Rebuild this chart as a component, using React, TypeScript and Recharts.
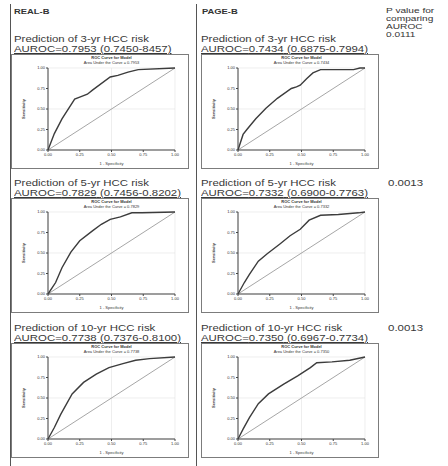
import React from 'react'
import { LineChart, Line, XAxis, YAxis, CartesianGrid, ReferenceLine } from 'recharts'

// follow-up horizons, one per table row
const years = [3, 5, 10]

// REAL-B column
const realAuc = ['0.7953', '0.7829', '0.7738']
const realCi = ['(0.7450-8457)', '(0.7456-0.8202)', '(0.7376-0.8100)']

// PAGE-B column
const pageAuc = ['0.7434', '0.7332', '0.7350']
const pageCi = ['(0.6875-0.7994)', '(0.6900-0.7763)', '(0.6967-0.7734)']

// p values for the AUROC comparison
const pValues = ['0.0111', '0.0013', '0.0013']
const pHeader = ['P value for', 'comparing', 'AUROC']

// ROC curves: 1 - specificity / sensitivity
const real3Fpr = [0, 0.05, 0.11, 0.21, 0.26, 0.31, 0.35, 0.49, 0.55, 0.63, 0.71, 1]
const real3Tpr = [0, 0.2, 0.38, 0.62, 0.65, 0.68, 0.73, 0.89, 0.91, 0.95, 0.98, 1]
const page3Fpr = [0, 0.04, 0.07, 0.14, 0.22, 0.31, 0.42, 0.46, 0.49, 0.54, 0.59, 0.65, 0.91, 0.96, 1]
const page3Tpr = [0, 0.19, 0.25, 0.38, 0.51, 0.63, 0.75, 0.77, 0.79, 0.87, 0.94, 0.98, 0.98, 1, 1]

const real5Fpr = [0, 0.06, 0.11, 0.18, 0.25, 0.35, 0.42, 0.49, 0.57, 0.66, 0.74, 1]
const real5Tpr = [0, 0.14, 0.32, 0.51, 0.65, 0.77, 0.85, 0.91, 0.94, 0.99, 0.99, 1]
const page5Fpr = [0, 0.05, 0.09, 0.16, 0.23, 0.33, 0.41, 0.49, 0.56, 0.65, 0.79, 0.95, 1]
const page5Tpr = [0, 0.14, 0.24, 0.4, 0.49, 0.61, 0.71, 0.79, 0.9, 0.96, 0.97, 0.99, 1]

const real10Fpr = [0, 0.05, 0.1, 0.19, 0.28, 0.38, 0.48, 0.59, 0.69, 0.8, 1]
const real10Tpr = [0, 0.14, 0.3, 0.55, 0.69, 0.79, 0.87, 0.92, 0.96, 0.98, 1]
const page10Fpr = [0, 0.04, 0.09, 0.16, 0.24, 0.36, 0.47, 0.57, 0.62, 0.74, 0.88, 1]
const page10Tpr = [0, 0.12, 0.26, 0.43, 0.55, 0.67, 0.77, 0.87, 0.93, 0.94, 0.96, 1]

const axisTicks = [0, 0.25, 0.5, 0.75, 1]

const realCurves = [
  [real3Fpr, real3Tpr],
  [real5Fpr, real5Tpr],
  [real10Fpr, real10Tpr],
]
const pageCurves = [
  [page3Fpr, page3Tpr],
  [page5Fpr, page5Tpr],
  [page10Fpr, page10Tpr],
]

const FONT = '"Liberation Sans", Arial, sans-serif'
const BOX_W = 178
const BOX_H = 115
const ROW_TOPS = [54, 198, 343]
const LEFT_X = 11
const RIGHT_X = 201

interface RocBoxProps {
  fpr: number[]
  tpr: number[]
  auc: string
  left: number
  top: number
}

const RocBox: React.FC<RocBoxProps> = ({ fpr, tpr, auc, left, top }) => {
  const data = fpr.map((x, i) => ({ x, y: tpr[i] }))
  const w = BOX_W - 2
  const h = BOX_H - 2
  const plotLeft = 36
  const plotRight = w - 13
  const plotTop = 13
  const plotBottom = h - 18
  const midY = (plotTop + plotBottom) / 2
  return (
    <div
      style={{
        position: 'absolute',
        left,
        top,
        width: BOX_W,
        height: BOX_H,
        border: '1px solid #7c7c7c',
        boxSizing: 'border-box',
        background: '#fff',
      }}
    >
      <div
        style={{
          position: 'absolute',
          left: plotLeft,
          width: plotRight - plotLeft,
          top: 1,
          textAlign: 'center',
          fontFamily: FONT,
          fontSize: 4,
          lineHeight: '4.5px',
          color: '#333',
        }}
      >
        <div style={{ fontWeight: 700 }}>ROC Curve for Model</div>
        <div>Area Under the Curve = {auc}</div>
      </div>
      <LineChart
        width={w}
        height={h}
        data={data}
        margin={{ top: plotTop, right: 13, bottom: 2, left: 14 }}
        style={{ fontFamily: FONT }}
      >
        <CartesianGrid xAxisId="b" yAxisId="l" stroke="#e3e3e3" strokeWidth={0.6} />
        <XAxis
          xAxisId="b"
          type="number"
          dataKey="x"
          domain={[0, 1]}
          ticks={axisTicks}
          tickFormatter={(v: number) => v.toFixed(2)}
          tick={{ fontSize: 4, fill: '#333' }}
          tickSize={2}
          tickMargin={1}
          height={16}
          axisLine={{ stroke: '#444' }}
          tickLine={{ stroke: '#444' }}
          label={{ value: '1 - Specificity', position: 'insideBottom', offset: 1, fontSize: 4, fill: '#333' }}
        />
        <XAxis xAxisId="t" orientation="top" type="number" domain={[0, 1]} height={0} tick={false} tickLine={false} axisLine={{ stroke: '#444' }} />
        <YAxis
          yAxisId="l"
          type="number"
          domain={[0, 1]}
          ticks={axisTicks}
          tickFormatter={(v: number) => v.toFixed(2)}
          tick={{ fontSize: 4, fill: '#333' }}
          tickSize={2}
          tickMargin={1}
          width={22}
          axisLine={{ stroke: '#444' }}
          tickLine={{ stroke: '#444' }}
          label={{
            content: () => (
              <text
                x={13}
                y={midY}
                transform={`rotate(-90 13 ${midY})`}
                textAnchor="middle"
                fontSize={4}
                fontWeight={700}
                fill="#333"
              >
                Sensitivity
              </text>
            ),
          }}
        />
        <YAxis yAxisId="r" orientation="right" type="number" domain={[0, 1]} width={0} tick={false} tickLine={false} axisLine={{ stroke: '#444' }} />
        <ReferenceLine
          xAxisId="b"
          yAxisId="l"
          segment={[{ x: 0, y: 0 }, { x: 1, y: 1 }]}
          stroke="#9c9c9c"
          strokeWidth={0.9}
        />
        <Line
          xAxisId="b"
          yAxisId="l"
          type="linear"
          dataKey="y"
          stroke="#3c3c3c"
          strokeWidth={1.4}
          dot={false}
          isAnimationActive={false}
        />
      </LineChart>
    </div>
  )
}

// the scanned table text is wide and short, so it is stretched sideways
const titleStyle: React.CSSProperties = {
  position: 'absolute',
  fontFamily: FONT,
  fontSize: 9.5,
  color: '#383838',
  whiteSpace: 'nowrap',
  lineHeight: '10px',
  transform: 'scaleX(1.2)',
  transformOrigin: 'left top',
}

const headStyle: React.CSSProperties = {
  position: 'absolute',
  fontFamily: FONT,
  fontSize: 7.5,
  fontWeight: 700,
  color: '#333',
  whiteSpace: 'nowrap',
  lineHeight: '8px',
  transform: 'scaleX(1.25)',
  transformOrigin: 'left top',
}

export default function App() {
  return (
    <div
      style={{
        position: 'absolute',
        left: 0,
        top: 0,
        width: 448,
        height: 466,
        background: '#fff',
        overflow: 'hidden',
      }}
    >
      {/* table rules */}
      <div style={{ position: 'absolute', left: 10, top: 4, width: 1, height: 462, background: '#555' }} />
      <div style={{ position: 'absolute', left: 196, top: 4, width: 1, height: 462, background: '#555' }} />

      <div style={{ ...headStyle, left: 14, top: 8 }}>REAL-B</div>
      <div style={{ ...headStyle, left: 202, top: 8 }}>PAGE-B</div>
      {pHeader.map((t, k) => (
        <div key={t} style={{ ...headStyle, left: 386, top: 7 + k * 8, fontWeight: 400, transform: 'scaleX(1.35)' }}>
          {t}
        </div>
      ))}
      <div style={{ ...headStyle, left: 386, top: 31, fontWeight: 400, transform: 'scaleX(1.35)' }}>{pValues[0]}</div>

      {years.map((yr, i) => {
        const top = ROW_TOPS[i]
        return (
          <React.Fragment key={yr}>
            <div style={{ ...titleStyle, left: 14, top: top - 20 }}>Prediction of {yr}-yr HCC risk</div>
            <div style={{ ...titleStyle, left: 14, top: top - 10, textDecoration: 'underline' }}>
              AUROC={realAuc[i]} {realCi[i]}
            </div>
            <div style={{ ...titleStyle, left: 201, top: top - 20 }}>Prediction of {yr}-yr HCC risk</div>
            <div style={{ ...titleStyle, left: 201, top: top - 10, textDecoration: 'underline' }}>
              AUROC={pageAuc[i]} {pageCi[i]}
            </div>
            {i > 0 && (
              <div style={{ ...titleStyle, left: 388, top: top - 20, fontSize: 8.5, transform: 'scaleX(1.35)' }}>
                {pValues[i]}
              </div>
            )}
            <RocBox fpr={realCurves[i][0]} tpr={realCurves[i][1]} auc={realAuc[i]} left={LEFT_X} top={top} />
            <RocBox fpr={pageCurves[i][0]} tpr={pageCurves[i][1]} auc={pageAuc[i]} left={RIGHT_X} top={top} />
          </React.Fragment>
        )
      })}
    </div>
  )
}
